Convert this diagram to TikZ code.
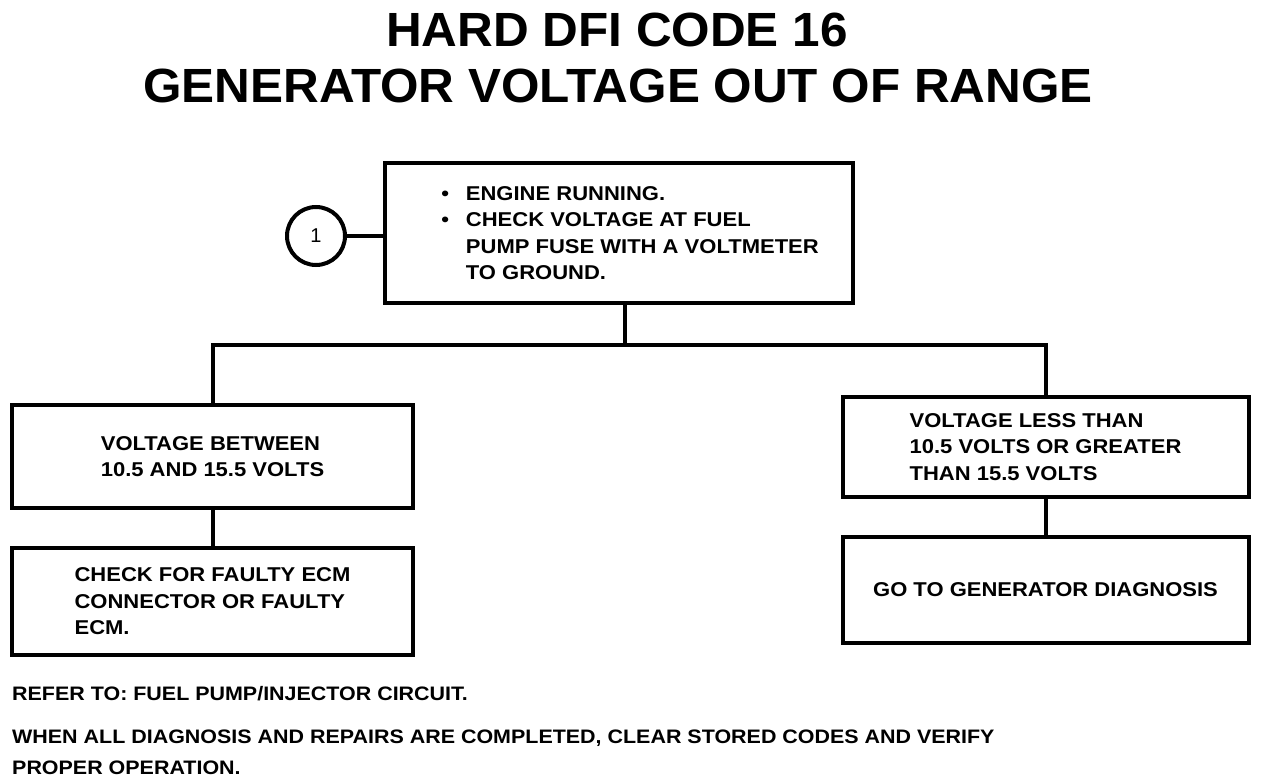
\documentclass[tikz,border=0pt]{standalone}
\usepackage{fontspec}
\setmainfont{Liberation Sans}
\newfontfamily\bodyfont[FakeStretch=1.1]{Liberation Sans}
\newfontfamily\titlefont[FakeStretch=1.03]{Liberation Sans}
\begin{document}
\begin{tikzpicture}[x=1pt,y=-1pt,
  every node/.style={font=\bodyfont\bfseries\fontsize{20}{26.5}\selectfont},
  box/.style={draw,line width=4pt,align=left,inner sep=0pt},
  conn/.style={line width=4pt},
  title/.style={font=\titlefont\bfseries\fontsize{48}{56}\selectfont},
  foot/.style={anchor=base west,inner sep=0pt,font=\bodyfont\bfseries\fontsize{19.5}{24}\selectfont}]
\useasboundingbox (0,0) rectangle (1264,784);
\node[title] (t1) at (617,30) {HARD DFI CODE 16};
\node[title] (t2) at (618,86) {GENERATOR VOLTAGE OUT OF RANGE};
\node[box,minimum width=468,minimum height=140] (top) at (619,233)
 {\hspace*{22pt}\textbullet\hspace{17pt}ENGINE RUNNING.\\
  \hspace*{22pt}\textbullet\hspace{17pt}CHECK VOLTAGE AT FUEL\\
  \hspace*{22pt}\phantom{\textbullet}\hspace{17pt}PUMP FUSE WITH A VOLTMETER\\
  \hspace*{22pt}\phantom{\textbullet}\hspace{17pt}TO GROUND.};
\node[draw,circle,line width=4pt,minimum size=58,inner sep=0pt,font=\fontsize{20}{24}\selectfont] (c1) at (316,236) {1};
\node[box,minimum width=401,minimum height=103] (l1) at (212.5,456.5)
 {VOLTAGE BETWEEN\\10.5 AND 15.5 VOLTS};
\node[box,minimum width=401,minimum height=107] (l2) at (212.5,601.5)
 {CHECK FOR FAULTY ECM\\CONNECTOR OR FAULTY\\ECM.};
\node[box,minimum width=406,minimum height=100] (r1) at (1045.5,447)
 {VOLTAGE LESS THAN\\10.5 VOLTS OR GREATER\\THAN 15.5 VOLTS};
\node[box,minimum width=406,minimum height=106] (r2) at (1045.5,590)
 {GO TO GENERATOR DIAGNOSIS};
\coordinate (bus) at (625,345);
\draw[conn] (c1.east) -- (top.west |- c1.east);
\draw[conn] (top.south -| bus) -- (bus);
\draw[conn] (l1.north) |- (bus) -| (r1.north);
\draw[conn] (l1.south) -- (l2.north);
\draw[conn] (r1.south) -- (r2.north);
\node[foot] (f1) at (12,700) {REFER TO: FUEL PUMP/INJECTOR CIRCUIT.};
\node[foot] (f2) at (12,743) {WHEN ALL DIAGNOSIS AND REPAIRS ARE COMPLETED, CLEAR STORED CODES AND VERIFY};
\node[foot] (f3) at (12,774) {PROPER OPERATION.};
\end{tikzpicture}
\end{document}
